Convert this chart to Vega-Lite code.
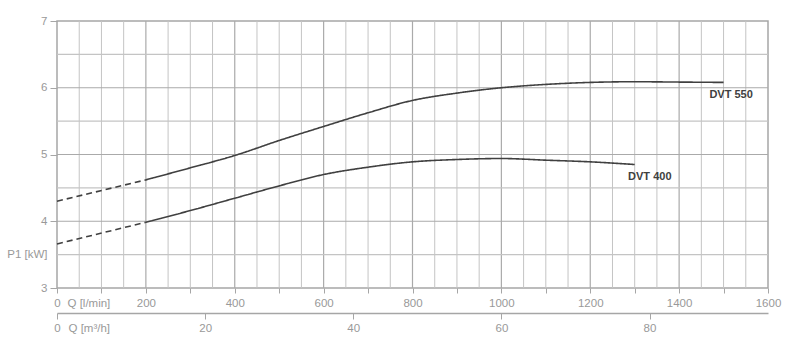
{
  "$schema": "https://vega.github.io/schema/vega-lite/v6.json",
  "width": 711,
  "height": 267,
  "autosize": "none",
  "padding": {"left": 57, "top": 21, "right": 32, "bottom": 68},
  "background": "white",
  "config": {"font": "Liberation Sans", "view": {"stroke": "#a6a6a6", "strokeWidth": 1.5}},
  "datasets": {
    "curves": [
      {"series": "DVT 550", "part": "dashed", "q": 0, "p": 4.30},
      {"series": "DVT 550", "part": "dashed", "q": 200, "p": 4.62},
      {"series": "DVT 550", "part": "solid", "q": 200, "p": 4.62},
      {"series": "DVT 550", "part": "solid", "q": 300, "p": 4.80},
      {"series": "DVT 550", "part": "solid", "q": 400, "p": 4.985},
      {"series": "DVT 550", "part": "solid", "q": 500, "p": 5.21},
      {"series": "DVT 550", "part": "solid", "q": 600, "p": 5.42},
      {"series": "DVT 550", "part": "solid", "q": 700, "p": 5.625},
      {"series": "DVT 550", "part": "solid", "q": 800, "p": 5.81},
      {"series": "DVT 550", "part": "solid", "q": 900, "p": 5.92},
      {"series": "DVT 550", "part": "solid", "q": 1000, "p": 6.0},
      {"series": "DVT 550", "part": "solid", "q": 1100, "p": 6.05},
      {"series": "DVT 550", "part": "solid", "q": 1200, "p": 6.08},
      {"series": "DVT 550", "part": "solid", "q": 1300, "p": 6.09},
      {"series": "DVT 550", "part": "solid", "q": 1400, "p": 6.085},
      {"series": "DVT 550", "part": "solid", "q": 1500, "p": 6.08},
      {"series": "DVT 400", "part": "dashed", "q": 0, "p": 3.66},
      {"series": "DVT 400", "part": "dashed", "q": 200, "p": 3.985},
      {"series": "DVT 400", "part": "solid", "q": 200, "p": 3.985},
      {"series": "DVT 400", "part": "solid", "q": 300, "p": 4.16},
      {"series": "DVT 400", "part": "solid", "q": 400, "p": 4.345},
      {"series": "DVT 400", "part": "solid", "q": 500, "p": 4.53},
      {"series": "DVT 400", "part": "solid", "q": 600, "p": 4.70},
      {"series": "DVT 400", "part": "solid", "q": 700, "p": 4.81},
      {"series": "DVT 400", "part": "solid", "q": 800, "p": 4.89},
      {"series": "DVT 400", "part": "solid", "q": 900, "p": 4.925},
      {"series": "DVT 400", "part": "solid", "q": 1000, "p": 4.94},
      {"series": "DVT 400", "part": "solid", "q": 1100, "p": 4.915},
      {"series": "DVT 400", "part": "solid", "q": 1200, "p": 4.89},
      {"series": "DVT 400", "part": "solid", "q": 1300, "p": 4.85}
    ],
    "labels": [
      {"label": "DVT 550", "q": 1517, "p": 5.885},
      {"label": "DVT 400", "q": 1334, "p": 4.67}
    ],
    "gridXMinor": [{"q": 50},{"q": 100},{"q": 150},{"q": 250},{"q": 300},{"q": 350},{"q": 450},{"q": 500},{"q": 550},{"q": 650},{"q": 700},{"q": 750},{"q": 850},{"q": 900},{"q": 950},{"q": 1050},{"q": 1100},{"q": 1150},{"q": 1250},{"q": 1300},{"q": 1350},{"q": 1450},{"q": 1500},{"q": 1550}],
    "gridXMajor": [{"q": 200},{"q": 400},{"q": 600},{"q": 800},{"q": 1000},{"q": 1200},{"q": 1400}],
    "gridY": [{"p": 3.5, "kind": "minor"},{"p": 4, "kind": "major"},{"p": 4.5, "kind": "minor"},{"p": 5, "kind": "major"},{"p": 5.5, "kind": "minor"},{"p": 6, "kind": "major"},{"p": 6.5, "kind": "minor"}],
    "m3h": [{"m3h": 0}, {"m3h": 96}]
  },
  "layer": [
    {
      "layer": [
        {
          "data": {"name": "gridXMinor"},
          "mark": {"type": "rule", "color": "#c4c4c4", "strokeWidth": 1},
          "encoding": {"x": {"field": "q", "type": "quantitative"}}
        },
        {
          "data": {"name": "gridXMajor"},
          "mark": {"type": "rule", "color": "#aaaaaa", "strokeWidth": 1.2},
          "encoding": {"x": {"field": "q", "type": "quantitative"}}
        },
        {
          "data": {"name": "gridY"},
          "mark": {"type": "rule", "strokeWidth": 1.2},
          "encoding": {
            "y": {"field": "p", "type": "quantitative"},
            "color": {"field": "kind", "type": "nominal", "scale": {"domain": ["minor", "major"], "range": ["#c4c4c4", "#aaaaaa"]}, "legend": null}
          }
        },
        {
          "data": {"name": "curves"},
          "mark": {"type": "line", "interpolate": "monotone", "color": "#404040", "strokeWidth": 1.6},
          "encoding": {
            "x": {
              "field": "q", "type": "quantitative",
              "scale": {"domain": [0, 1600], "nice": false, "zero": false},
              "axis": {
                "orient": "bottom",
                "values": [0,100,200,300,400,500,600,700,800,900,1000,1100,1200,1300,1400,1500,1600],
                "labelExpr": "datum.value % 200 === 0 ? format(datum.value, 'd') : ''",
                "title": "Q [l/min]",
                "titleX": 10, "titleY": 15, "titleAlign": "left", "titleBaseline": "middle",
                "titleFontWeight": "normal", "titleFontSize": 11.5, "titleColor": "#999999",
                "domain": false,
                "tickSize": 5, "tickColor": "#a6a6a6",
                "labelColor": "#999999", "labelFontSize": 11.5, "labelPadding": 4,
                "labelFlush": false, "labelOverlap": false,
                "grid": false
              }
            },
            "y": {
              "field": "p", "type": "quantitative",
              "scale": {"domain": [3, 7], "nice": false, "zero": false},
              "axis": {
                "values": [3,3.5,4,4.5,5,5.5,6,6.5,7],
                "labelExpr": "datum.value % 1 === 0 ? format(datum.value, 'd') : ''",
                "title": "P1 [kW]",
                "titleAngle": 0, "titleAlign": "right", "titleBaseline": "middle",
                "titleX": -10, "titleY": 233.6,
                "titleFontWeight": "normal", "titleFontSize": 11.5, "titleColor": "#999999",
                "domain": false,
                "tickSize": 7, "tickColor": "#a6a6a6",
                "labelColor": "#999999", "labelFontSize": 11.5, "labelPadding": 3,
                "labelOverlap": false,
                "grid": false
              }
            },
            "detail": {"field": "series"},
            "strokeDash": {"field": "part", "type": "nominal", "scale": {"domain": ["solid", "dashed"], "range": [[1, 0], [6, 4]]}, "legend": null}
          }
        },
        {
          "data": {"name": "labels"},
          "mark": {"type": "text", "fontWeight": "bold", "fontSize": 11, "color": "#404040"},
          "encoding": {
            "x": {"field": "q", "type": "quantitative"},
            "y": {"field": "p", "type": "quantitative"},
            "text": {"field": "label"}
          }
        }
      ]
    },
    {
      "data": {"name": "m3h"},
      "mark": {"type": "point", "opacity": 0},
      "encoding": {
        "x": {
          "field": "m3h", "type": "quantitative",
          "scale": {"domain": [0, 96], "nice": false, "zero": false},
          "axis": {
            "orient": "bottom", "offset": 25,
            "values": [0, 20, 40, 60, 80],
            "format": "d",
            "title": "Q [m³/h]",
            "titleX": 11, "titleY": 15, "titleAlign": "left", "titleBaseline": "middle",
            "titleFontWeight": "normal", "titleFontSize": 11.5, "titleColor": "#999999",
            "grid": false,
            "domain": true, "domainColor": "#a6a6a6", "domainWidth": 1.5,
            "tickSize": 6, "tickColor": "#a6a6a6",
            "labelColor": "#999999", "labelFontSize": 11.5, "labelPadding": 3,
            "labelFlush": false, "labelOverlap": false
          }
        }
      }
    }
  ],
  "resolve": {"scale": {"x": "independent"}, "axis": {"x": "independent"}}
}
